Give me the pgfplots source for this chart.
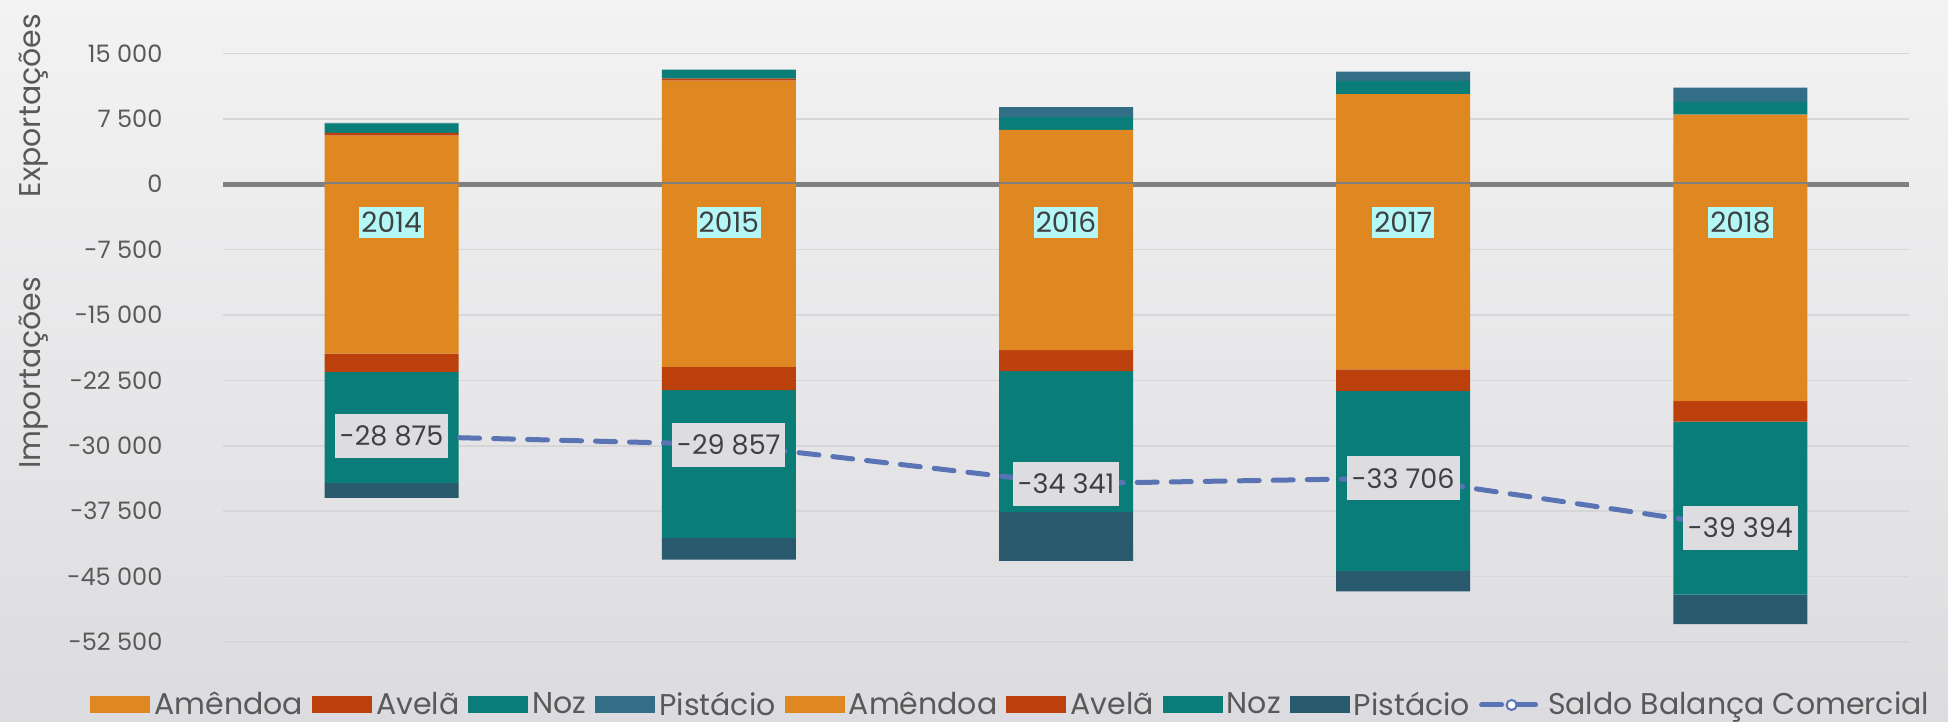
\documentclass[border=0pt]{standalone}
\usepackage{fontspec}
\setmainfont{Poppins}
\usepackage{pgfplots}
\pgfplotsset{compat=1.18}

\definecolor{bgtop}{HTML}{F3F3F3}
\definecolor{bgbot}{HTML}{DCDCE0}
\definecolor{cAm}{HTML}{DF8720}
\definecolor{cAv}{HTML}{BC400C}
\definecolor{cNoz}{HTML}{0A7D79}
\definecolor{cPisE}{HTML}{336E87}
\definecolor{cPisI}{HTML}{29596C}
\definecolor{cLine}{HTML}{5A73B5}
\definecolor{cLab}{HTML}{DDDDE1}
\definecolor{cYear}{HTML}{B3F8F7}
\definecolor{tickc}{HTML}{595959}
\definecolor{textdark}{HTML}{404040}
\definecolor{gridc}{HTML}{D6D6D9}

\pgfplotsset{
  base/.style={
    at={(111.5bp,40bp)}, anchor=south west,
    scale only axis, width=843bp, height=294.3bp,
    xmin=-0.5, xmax=4.5, ymin=-52500, ymax=15000,
    xtick=\empty, scaled y ticks=false,
  },
  boxlegend/.style={legend image code/.code={\fill[##1] (0bp,-4.25bp) rectangle (30bp,4.25bp);}},
  linelegend/.style={legend image code/.code={
      \draw[##1] (0bp,0bp) -- (30bp,0bp);
      \draw[solid, line width=1bp, fill=white] (15bp,0bp) circle (2.5bp);}},
}

\begin{document}
\begin{tikzpicture}
\useasboundingbox (0,0) rectangle (974bp,361bp);
\fill[top color=bgtop, bottom color=bgbot] (0,0) rectangle (974bp,361bp);
\node[rotate=90, text=tickc, font=\fontsize{15bp}{17bp}\selectfont] at (16.8bp,308.2bp) {Exportações};
\node[rotate=90, text=tickc, font=\fontsize{15bp}{17bp}\selectfont] at (16.8bp,174.6bp) {Importações};

% exports
\begin{axis}[base, ybar stacked, bar width=67bp,
    axis line style={draw=none}, major tick length=0pt,
    ytick={-52500,-45000,-37500,-30000,-22500,-15000,-7500,0,7500,15000},
    yticklabels={-52 500,-45 000,-37 500,-30 000,-22 500,-15 000,-7 500,0,7 500,15 000},
    yticklabel style={font=\fontsize{12bp}{14bp}\selectfont, text=tickc, xshift=-26.8bp},
    ymajorgrids, grid style={color=gridc, line width=0.8bp}]
\addplot[fill=cAm, draw=none] coordinates {(0,5580) (1,11890) (2,6240) (3,10320) (4,7990)};
\addplot[fill=cAv, draw=none] coordinates {(0,300) (1,230) (2,0) (3,0) (4,0)};
\addplot[fill=cNoz, draw=none] coordinates {(0,1100) (1,1030) (2,1445) (3,1490) (4,1455)};
\addplot[fill=cPisE, draw=none] coordinates {(0,60) (1,0) (2,1150) (3,1110) (4,1640)};
\end{axis}

% imports
\begin{axis}[base, ybar stacked, bar width=67bp, hide axis]
\addplot[fill=cAm, draw=none] coordinates {(0,-19420) (1,-20940) (2,-19040) (3,-21250) (4,-24890)};
\addplot[fill=cAv, draw=none] coordinates {(0,-2100) (1,-2680) (2,-2410) (3,-2440) (4,-2330)};
\addplot[fill=cNoz, draw=none] coordinates {(0,-12730) (1,-16930) (2,-16120) (3,-20640) (4,-19840)};
\addplot[fill=cPisI, draw=none] coordinates {(0,-1720) (1,-2490) (2,-5620) (3,-2370) (4,-3400)};
\draw[color=gray, line width=2.6bp] (axis cs:-0.5,0) -- (axis cs:4.5,0);
\end{axis}

% balance line, year labels, legend
\begin{axis}[base, hide axis, clip=false,
    legend columns=-1,
    legend style={at={(-0.0824,-0.107)}, anchor=west, draw=none, fill=none,
      font=\fontsize{15bp}{17bp}\selectfont, text=tickc,
      nodes={inner xsep=2bp},
      /tikz/every even column/.append style={column sep=2.5bp}}]
\addlegendimage{boxlegend, fill=cAm, draw=none}\addlegendentry{Amêndoa}
\addlegendimage{boxlegend, fill=cAv, draw=none}\addlegendentry{Avelã}
\addlegendimage{boxlegend, fill=cNoz, draw=none}\addlegendentry{Noz}
\addlegendimage{boxlegend, fill=cPisE, draw=none}\addlegendentry{Pistácio}
\addlegendimage{boxlegend, fill=cAm, draw=none}\addlegendentry{Amêndoa}
\addlegendimage{boxlegend, fill=cAv, draw=none}\addlegendentry{Avelã}
\addlegendimage{boxlegend, fill=cNoz, draw=none}\addlegendentry{Noz}
\addlegendimage{boxlegend, fill=cPisI, draw=none}\addlegendentry{Pistácio}

\addplot[draw=none, no markers, forget plot, point meta=explicit symbolic,
    nodes near coords,
    nodes near coords style={anchor=center, fill=cYear, text=textdark,
      inner xsep=1bp, inner ysep=2.5bp, font=\fontsize{14bp}{16bp}\selectfont}]
  coordinates {(0,-4390) [2014] (1,-4390) [2015] (2,-4390) [2016] (3,-4390) [2017] (4,-4390) [2018]};

\addplot[color=cLine, line width=2.5bp, dash pattern=on 10bp off 7bp, line cap=round, no markers,
    linelegend,
    point meta=explicit symbolic, nodes near coords,
    nodes near coords style={anchor=center, fill=cLab, text=textdark, solid,
      inner xsep=2.5bp, minimum height=22bp, font=\fontsize{13.5bp}{16bp}\selectfont}]
  coordinates {(0,-28875) [-28 875] (1,-29857) [-29 857] (2,-34341) [-34 341] (3,-33706) [-33 706] (4,-39394) [-39 394]};
\addlegendentry{Saldo Balança Comercial}
\end{axis}
\end{tikzpicture}
\end{document}
